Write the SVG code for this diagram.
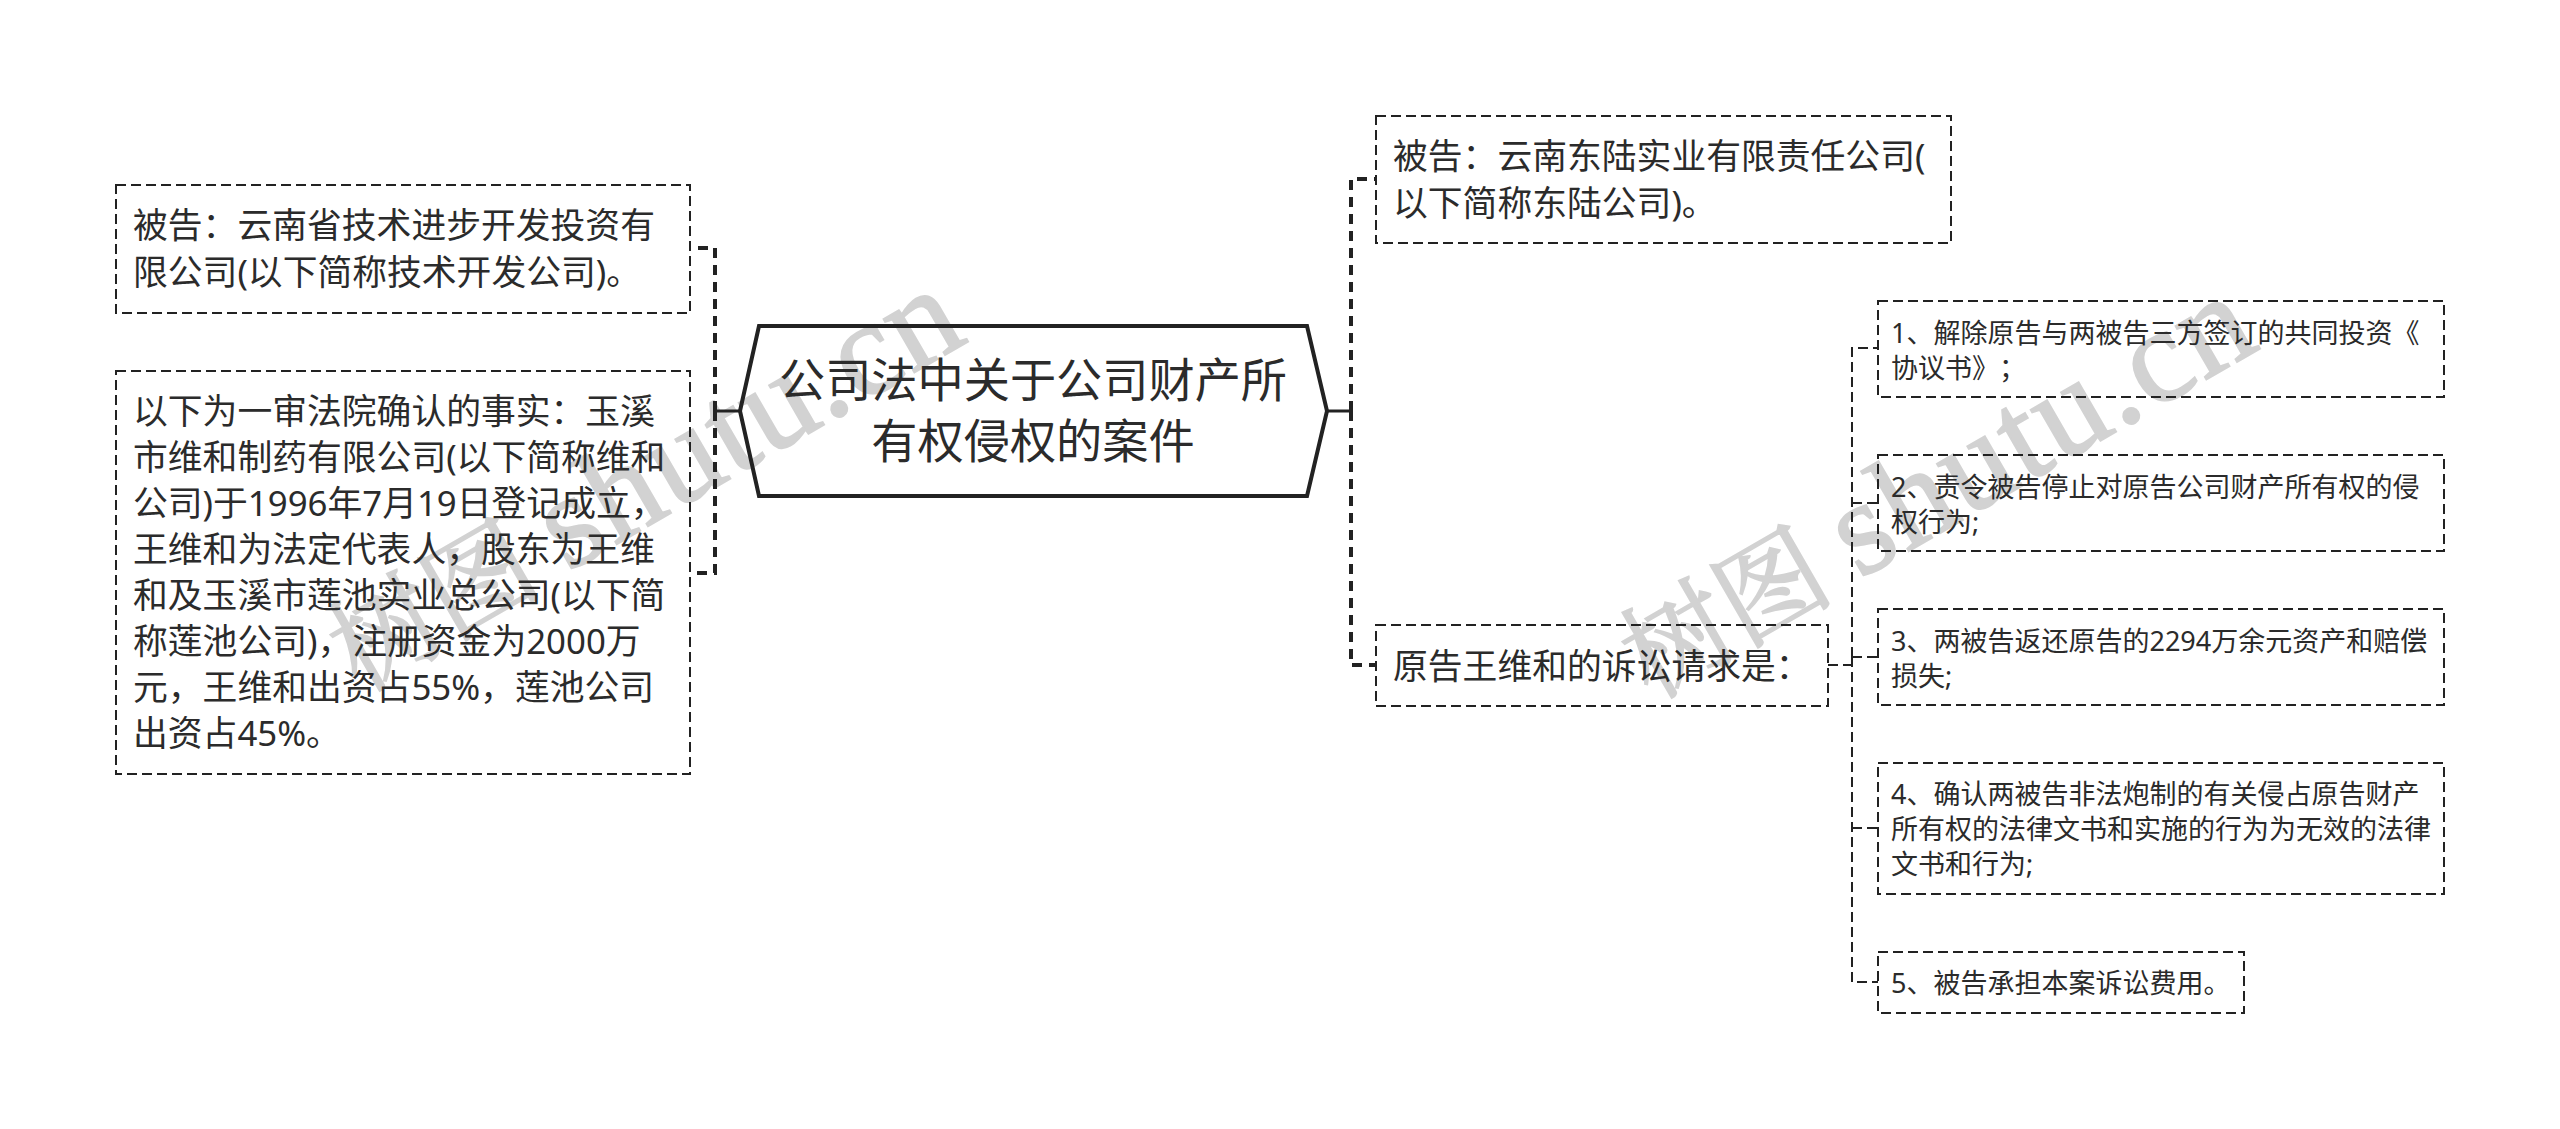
<svg xmlns="http://www.w3.org/2000/svg" width="2560" height="1129" viewBox="0 0 2560 1129">
<style>
text{font-family:"Noto Sans","Noto Sans CJK SC",sans-serif;fill:#2b2b2b;text-spacing-trim:space-all}
text.wm{font-family:"Liberation Serif","Noto Serif CJK SC","Noto Sans CJK SC",serif;font-size:107px;fill:#d2d2d2;stroke:#d2d2d2;stroke-width:2}
.wl{font-size:134px;letter-spacing:2px}
.box{fill:none;stroke:#222;stroke-width:2;stroke-dasharray:10 5}
.t0{font-size:46.2px}
.t1{font-size:34.8px}
.t2{font-size:27px}
.c1{fill:none;stroke:#222;stroke-width:4;stroke-dasharray:10 7}
.c2{fill:none;stroke:#222;stroke-width:2;stroke-dasharray:10 5}
.s{fill:none;stroke:#222;stroke-width:3}
</style>
<rect width="2560" height="1129" fill="#fff"/>
<text class="wm" transform="translate(359 693) rotate(-30)">树图 <tspan class="wl">shutu.cn</tspan></text>
<text class="wm" transform="translate(1651 700) rotate(-30)">树图 <tspan class="wl">shutu.cn</tspan></text>
<g id="connectors">
<line class="s" x1="715" y1="411" x2="740" y2="411"/>
<path class="c1" d="M715 411V248H691"/>
<path class="c1" d="M715 411V573H691"/>
<line class="s" x1="1327" y1="411" x2="1351" y2="411"/>
<path class="c1" d="M1351 411V179H1376"/>
<path class="c1" d="M1351 411V665H1376"/>
<path class="c2" d="M1828 665H1852"/>
<path class="c2" d="M1852 657V348H1878"/>
<path class="c2" d="M1852 503H1878"/>
<path class="c2" d="M1852 657H1878"/>
<path class="c2" d="M1852 657V982H1878"/>
<path class="c2" d="M1852 828H1878"/>
</g>
<g id="root">
<polygon points="740,411 759,326 1307,326 1327,411 1307,496 759,496" fill="none" stroke="#222" stroke-width="4"/>
<text class="t0" x="1033" y="397" text-anchor="middle">公司法中关于公司财产所</text>
<text class="t0" x="1033" y="458" text-anchor="middle">有权侵权的案件</text>
</g>
<g id="left-1">
<rect class="box" x="116" y="185" width="574" height="128"/>
<text class="t1" x="133" y="238">被告：云南省技术进步开发投资有</text>
<text class="t1" x="133" y="285">限公司(以下简称技术开发公司)。</text>
</g>
<g id="left-2">
<rect class="box" x="116" y="371" width="574" height="403"/>
<text class="t1" x="133" y="424">以下为一审法院确认的事实：玉溪</text>
<text class="t1" x="133" y="470">市维和制药有限公司(以下简称维和</text>
<text class="t1" x="133" y="516">公司)于1996年7月19日登记成立，</text>
<text class="t1" x="133" y="562">王维和为法定代表人，股东为王维</text>
<text class="t1" x="133" y="608">和及玉溪市莲池实业总公司(以下简</text>
<text class="t1" x="133" y="654">称莲池公司)，注册资金为2000万</text>
<text class="t1" x="133" y="700">元，王维和出资占55%，莲池公司</text>
<text class="t1" x="133" y="746">出资占45%。</text>
</g>
<g id="right-1">
<rect class="box" x="1376" y="116" width="575" height="127"/>
<text class="t1" x="1393" y="169">被告：云南东陆实业有限责任公司(</text>
<text class="t1" x="1393" y="216">以下简称东陆公司)。</text>
</g>
<g id="right-2">
<rect class="box" x="1376" y="625" width="452" height="81"/>
<text class="t1" x="1393" y="679">原告王维和的诉讼请求是：</text>
</g>
<g id="child-1">
<rect class="box" x="1878" y="301" width="566" height="96"/>
<text class="t2" x="1891" y="343">1、解除原告与两被告三方签订的共同投资《</text>
<text class="t2" x="1891" y="378">协议书》；</text>
</g>
<g id="child-2">
<rect class="box" x="1878" y="455" width="566" height="96"/>
<text class="t2" x="1891" y="497">2、责令被告停止对原告公司财产所有权的侵</text>
<text class="t2" x="1891" y="532">权行为;</text>
</g>
<g id="child-3">
<rect class="box" x="1878" y="609" width="566" height="96"/>
<text class="t2" x="1891" y="651">3、两被告返还原告的2294万余元资产和赔偿</text>
<text class="t2" x="1891" y="686">损失;</text>
</g>
<g id="child-4">
<rect class="box" x="1878" y="763" width="566" height="131"/>
<text class="t2" x="1891" y="804">4、确认两被告非法炮制的有关侵占原告财产</text>
<text class="t2" x="1891" y="839">所有权的法律文书和实施的行为为无效的法律</text>
<text class="t2" x="1891" y="874">文书和行为;</text>
</g>
<g id="child-5">
<rect class="box" x="1878" y="952" width="366" height="61"/>
<text class="t2" x="1891" y="993">5、被告承担本案诉讼费用。</text>
</g>
</svg>
